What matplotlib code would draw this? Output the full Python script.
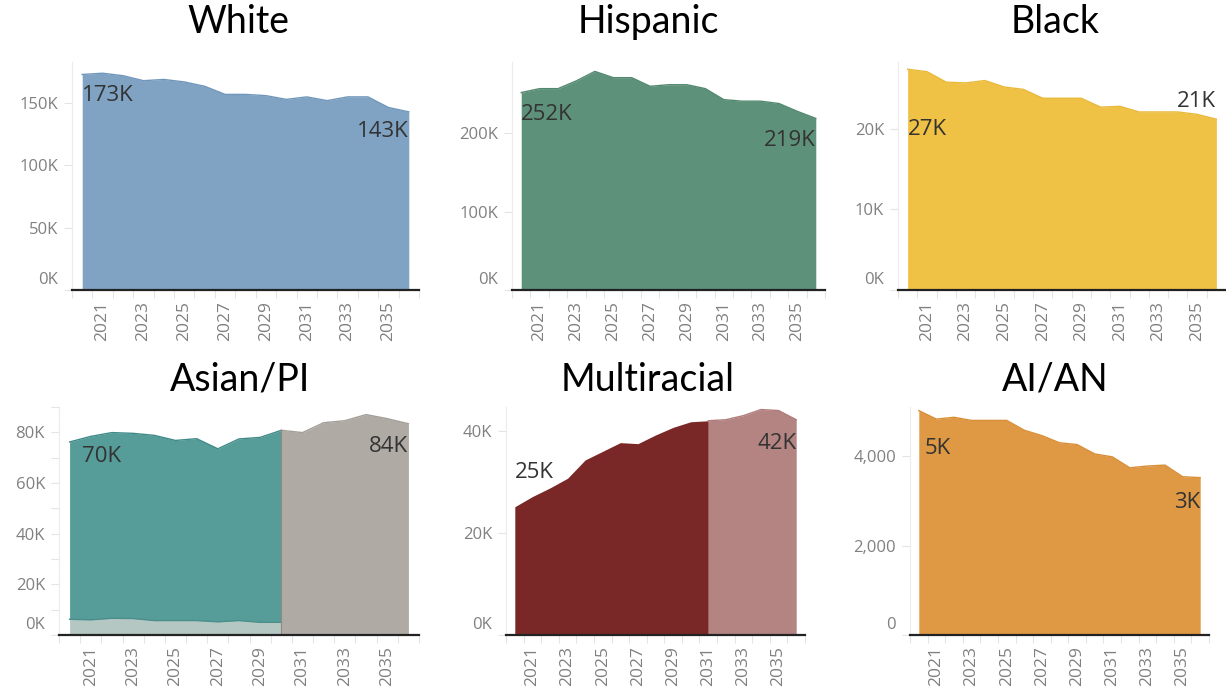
import numpy as np
import matplotlib
matplotlib.use('Agg')
import matplotlib.pyplot as plt
from matplotlib.transforms import ScaledTranslation, blended_transform_factory

years = list(range(2020, 2037))
year_labels = [str(y) for y in range(2021, 2036, 2)]

# values in thousands (AI/AN in persons)
white = [173, 174, 172, 168, 169, 167, 163.5, 157, 157, 156, 153, 155, 152, 155, 155, 146.5, 143]
hispanic = [252, 257, 257, 267, 279, 271, 271, 260, 262, 262, 257, 243, 241, 241, 238, 228, 219]
black = [27.4, 27.1, 25.8, 25.7, 26.0, 25.2, 24.9, 23.8, 23.8, 23.8, 22.7, 22.8, 22.1, 22.1, 22.1, 21.8, 21.2]

years_a = list(range(2020, 2031))
pi = [6.2, 6.0, 6.6, 6.5, 5.7, 5.7, 5.7, 5.2, 5.7, 5.0, 5.0]
asian = [70.0, 72.4, 73.3, 73.1, 73.1, 71.1, 71.8, 68.3, 71.7, 73.0, 75.8]
years_a_proj = list(range(2030, 2037))
asian_pi_proj = [80.8, 79.9, 83.8, 84.6, 87.0, 85.4, 83.4]

years_m = list(range(2020, 2032))
multi = [25.2, 27.2, 28.9, 30.8, 34.4, 36.1, 37.8, 37.6, 39.3, 40.8, 41.9, 42.1]
years_m_proj = list(range(2031, 2037))
multi_proj = [42.1, 42.3, 43.1, 44.3, 44.1, 42.3]

aian = [5020, 4830, 4870, 4800, 4800, 4800, 4580, 4460, 4300, 4260, 4050, 3985, 3740, 3780, 3800, 3540, 3520]

W, H = 1226, 689
fig = plt.figure(figsize=(W / 100, H / 100), dpi=100)
fig.patch.set_facecolor('white')

tick_col = '#808080'
lab_col = '#333333'


def make_ax(L, R, T, B, d0, d1, ytop, yticks, fmt, title, tx, ty, minor=None):
    ax = fig.add_axes([L / W, 1 - B / H, (R - L) / W, (B - T) / H])
    sc = 16.0 / (d1 - d0)
    ax.set_xlim(2020 - (d0 - L) * sc, 2036 + (R - d1) * sc)
    ax.set_ylim(0, ytop)
    for s in ['top', 'right']:
        ax.spines[s].set_visible(False)
    ax.spines['left'].set_color('#ececec')
    ax.spines['left'].set_linewidth(0.8)
    ax.spines['bottom'].set_color('#222222')
    ax.spines['bottom'].set_linewidth(1.6)
    ax.spines['bottom'].set_zorder(5)
    ax.set_yticks(yticks)
    ax.set_yticklabels([fmt(v) for v in yticks])
    if minor is not None:
        ax.set_yticks(minor, minor=True)
    ax.tick_params(axis='y', which='both', length=6, width=0.8, color='#e4e4e4',
                   labelcolor=tick_col, labelsize=12, pad=4)
    ax.set_xticks([int(y) for y in year_labels])
    ax.set_xticklabels(year_labels, rotation=90, fontsize=12.5, color=tick_col)
    ax.set_xticks(np.arange(2019.5, 2037, 1.0), minor=True)
    ax.tick_params(axis='x', which='major', length=0, pad=8)
    ax.tick_params(axis='x', which='minor', length=6, width=0.8, color='#e4e4e4')
    for t in ax.get_xticklabels() + ax.get_yticklabels():
        t.set_fontfamily(['Open Sans', 'DejaVu Sans'])
    # Tableau style: bottom y label nudged up
    first = ax.get_yticklabels()[0]
    first.set_transform(first.get_transform() + ScaledTranslation(0, 12 / 100, fig.dpi_scale_trans))
    fig.text(tx / W, 1 - ty / H, title, ha='center', va='center', fontsize=27,
             family=['Lato', 'DejaVu Sans'], color='black')
    return ax


def end_labels(ax, lab0, y0, lab1, y1, dx0=0):
    tr = blended_transform_factory(ax.transData, ax.transAxes)
    tr0 = tr + ScaledTranslation(dx0 / 100, 0, fig.dpi_scale_trans)
    ax.text(2020, y0, lab0, transform=tr0, ha='left', va='center', fontsize=16,
            color=lab_col, family=['Open Sans', 'DejaVu Sans'], zorder=6)
    ax.text(2036, y1, lab1, transform=tr, ha='right', va='center', fontsize=16,
            color=lab_col, family=['Open Sans', 'DejaVu Sans'], zorder=6)


kfmt = lambda v: '%dK' % v
cfmt = lambda v: '{:,}'.format(int(v))

# White
ax = make_ax(72, 419, 62, 290, 81, 412, 183, [0, 50, 100, 150], kfmt, 'White', 238, 22)
ax.fill_between(years, 0, white, color='#80a3c4', lw=0)
ax.plot(years, white, color='#7097bb', lw=1)
end_labels(ax, '173K', 0.852, '143K', 0.694)

# Hispanic
ax = make_ax(512, 825, 62, 290, 520, 817, 291, [0, 100, 200], kfmt, 'Hispanic', 648, 22)
ax.fill_between(years, 0, hispanic, color='#5e917a', lw=0)
ax.plot(years, hispanic, color='#538870', lw=1)
end_labels(ax, '252K', 0.768, '219K', 0.655)

# Black
ax = make_ax(898, 1226, 62, 290, 907, 1218, 28.3, [0, 10, 20], kfmt, 'Black', 1055, 22)
ax.fill_between(years, 0, black, color='#efc144', lw=0)
ax.plot(years, black, color='#e8b93a', lw=1)
end_labels(ax, '27K', 0.706, '21K', 0.826)

# Asian/PI
ax = make_ax(59, 419, 407, 635, 69, 412, 90, [0, 20, 40, 60, 80], kfmt, 'Asian/PI', 240, 380,
             minor=[10, 30, 50, 70, 90])
top = [p + a for p, a in zip(pi, asian)]
ax.fill_between(years_a, 0, pi, color='#b5c7c3', lw=0)
ax.fill_between(years_a, pi, top, color='#569c99', lw=0)
ax.plot(years_a, pi, color='#4a8f8c', lw=1)
ax.plot(years_a, top, color='#3f8a87', lw=1)
ax.fill_between(years_a_proj, 0, asian_pi_proj, color='#afaaa4', lw=0)
ax.plot(years_a_proj, asian_pi_proj, color='#a39e98', lw=1)
ax.plot([2030, 2030], [0, asian_pi_proj[0]], color='#8f8a85', lw=0.8)
end_labels(ax, '70K', 0.781, '84K', 0.825, dx0=12)

# Multiracial
ax = make_ax(506, 805, 407, 635, 514, 798, 44.8, [0, 20, 40], kfmt, 'Multiracial', 648, 380)
ax.fill_between(years_m, 0, multi, color='#7a2827', lw=0)
ax.fill_between(years_m_proj, 0, multi_proj, color='#b48483', lw=0)
ax.plot(years_m_proj, multi_proj, color='#ad7b7a', lw=1)
end_labels(ax, '25K', 0.711, '42K', 0.842)

# AI/AN
ax = make_ax(910, 1209, 407, 635, 917, 1201, 5100, [0, 2000, 4000], cfmt, 'AI/AN', 1055, 380)
ax.fill_between(years, 0, aian, color='#df9944', lw=0)
ax.plot(years, aian, color='#d98f38', lw=1)
end_labels(ax, '5K', 0.820, '3K', 0.583, dx0=6)

fig.savefig('out.png', dpi=100, facecolor='white')
